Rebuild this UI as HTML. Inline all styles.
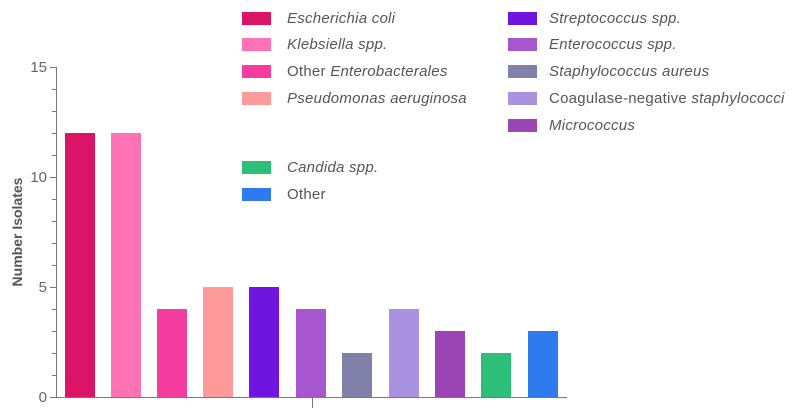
<!DOCTYPE html>
<html><head><meta charset="utf-8"><style>
body{margin:0;background:#fff;width:800px;height:420px;overflow:hidden}
svg{display:block;font-family:"Liberation Sans",sans-serif}
.l{font-size:15px;fill:#555;letter-spacing:0.25px}
.t{font-size:15px;fill:#666}
</style></head><body>
<svg width="800" height="420" viewBox="0 0 800 420">
<g stroke="#777" stroke-width="1">
<line x1="56.5" y1="67" x2="56.5" y2="397"/>
<line x1="56" y1="397.5" x2="567" y2="397.5"/>
<line x1="312.5" y1="397" x2="312.5" y2="408"/>
<line x1="50" y1="67.5" x2="56" y2="67.5"/>
<line x1="50" y1="177.5" x2="56" y2="177.5"/>
<line x1="50" y1="287.5" x2="56" y2="287.5"/>
<line x1="50" y1="397.5" x2="56" y2="397.5"/>
<path d="M52 89.5h4M52 111.5h4M52 133.5h4M52 155.5h4M52 199.5h4M52 221.5h4M52 243.5h4M52 265.5h4M52 309.5h4M52 331.5h4M52 353.5h4M52 375.5h4"/>
</g>
<g class="t" text-anchor="end">
<text x="47" y="72">15</text><text x="47" y="182">10</text><text x="47" y="292">5</text><text x="47" y="402">0</text>
</g>
<text transform="translate(22,232) rotate(-90)" text-anchor="middle" style="font-size:14px;font-weight:bold;fill:#555">Number Isolates</text>
<rect x="65" y="133" width="30" height="264" fill="#dc1468"/>
<rect x="111" y="133" width="30" height="264" fill="#ff73b4"/>
<rect x="157" y="309" width="30" height="88" fill="#f53c9f"/>
<rect x="203" y="287" width="30" height="110" fill="#ff9a9a"/>
<rect x="249" y="287" width="30" height="110" fill="#7014e0"/>
<rect x="296" y="309" width="30" height="88" fill="#a855d0"/>
<rect x="342" y="353" width="30" height="44" fill="#8080aa"/>
<rect x="389" y="309" width="30" height="88" fill="#a993e0"/>
<rect x="435" y="331" width="30" height="66" fill="#9b45b5"/>
<rect x="481" y="353" width="30" height="44" fill="#2dbf7a"/>
<rect x="528" y="331" width="30" height="66" fill="#2e7bf0"/>
<g>
<rect x="242" y="12" width="29" height="13" fill="#dc1468"/>
<rect x="242" y="38" width="29" height="13" fill="#ff73b4"/>
<rect x="242" y="65" width="29" height="13" fill="#f53c9f"/>
<rect x="242" y="92" width="29" height="13" fill="#ff9a9a"/>
<rect x="242" y="161" width="29" height="13" fill="#2dbf7a"/>
<rect x="242" y="188" width="29" height="13" fill="#2e7bf0"/>
<rect x="508" y="12" width="29" height="13" fill="#7014e0"/>
<rect x="508" y="38" width="29" height="13" fill="#a855d0"/>
<rect x="508" y="65" width="29" height="13" fill="#8080aa"/>
<rect x="508" y="92" width="29" height="13" fill="#a993e0"/>
<rect x="508" y="119" width="29" height="13" fill="#9b45b5"/>
</g>
<g class="l">
<text x="287" y="23" font-style="italic">Escherichia coli</text>
<text x="287" y="49" font-style="italic">Klebsiella spp.</text>
<text x="287" y="76">Other <tspan font-style="italic">Enterobacterales</tspan></text>
<text x="287" y="103" font-style="italic">Pseudomonas aeruginosa</text>
<text x="287" y="172" font-style="italic">Candida spp.</text>
<text x="287" y="199">Other</text>
<text x="549" y="23" font-style="italic">Streptococcus spp.</text>
<text x="549" y="49" font-style="italic">Enterococcus spp.</text>
<text x="549" y="76" font-style="italic">Staphylococcus aureus</text>
<text x="549" y="103">Coagulase-negative <tspan font-style="italic">staphylococci</tspan></text>
<text x="549" y="130" font-style="italic">Micrococcus</text>
</g>
</svg>
</body></html>
